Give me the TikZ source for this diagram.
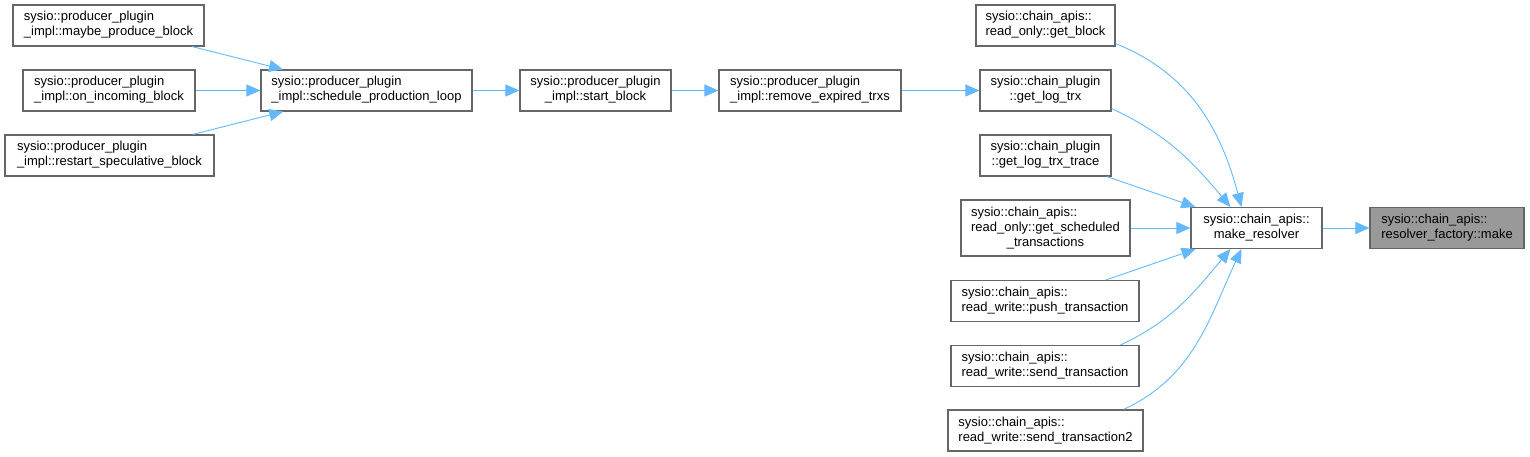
\documentclass[tikz,border=0pt]{standalone}
\usepackage{fontspec}
\setmainfont{Liberation Sans}
\usetikzlibrary{arrows.meta}

\definecolor{edgeblue}{HTML}{63B8FF}
\definecolor{boxgray}{HTML}{666666}
\definecolor{curgray}{HTML}{999999}

% first lines left, last line centred (as doxygen sets them)
\newcommand{\twolbl}[2]{\begin{tabular}{@{}c@{}}\multicolumn{1}{@{}l@{}}{#1}\\#2\end{tabular}}
\newcommand{\threelbl}[3]{\begin{tabular}{@{}c@{}}\multicolumn{1}{@{}l@{}}{#1}\\\multicolumn{1}{@{}l@{}}{#2}\\#3\end{tabular}}

\tikzset{
  fnbox/.style={draw=boxgray, line width=1.1pt, fill=white, inner sep=0pt,
    minimum height=41pt, font=\fontsize{13}{15}\selectfont},
  curbox/.style={fnbox, fill=curgray},
  calls/.style={draw=edgeblue, line width=0.9pt,
    -{Triangle[length=14pt,width=12pt]}}
}

\begin{document}
\begin{tikzpicture}[x=1pt,y=1pt]
			\useasboundingbox (0,0) rectangle (1530,-457);

			% Draw producer plugin callers
			\node[fnbox, minimum width=191pt] (maybe) at (108.5,-25.5)
				{\twolbl{sysio::producer\_plugin}{\_impl::maybe\_produce\_block}};
			\node[fnbox, minimum width=172pt] (incoming) at (109,-90.5)
				{\twolbl{sysio::producer\_plugin}{\_impl::on\_incoming\_block}};
			\node[fnbox, minimum width=209pt] (restart) at (109.5,-155.5)
				{\twolbl{sysio::producer\_plugin}{\_impl::restart\_speculative\_block}};

			% Draw producer chain
			\node[fnbox, minimum width=211pt] (schedule) at (366.5,-90.5)
				{\twolbl{sysio::producer\_plugin}{\_impl::schedule\_production\_loop}};
			\node[fnbox, minimum width=151pt] (start) at (595.5,-90.5)
				{\twolbl{sysio::producer\_plugin}{\_impl::start\_block}};
			\node[fnbox, minimum width=182pt] (remove) at (810,-90.5)
				{\twolbl{sysio::producer\_plugin}{\_impl::remove\_expired\_trxs}};

			% Draw chain api callers
			\node[fnbox, minimum width=139pt] (getblock) at (1045.5,-25.5)
				{\twolbl{sysio::chain\_apis::}{read\_only::get\_block}};
			\node[fnbox, minimum width=131pt] (logtrx) at (1045.5,-90.5)
				{\twolbl{sysio::chain\_plugin}{::get\_log\_trx}};
			\node[fnbox, minimum width=131pt] (logtrace) at (1045.5,-155.5)
				{\twolbl{sysio::chain\_plugin}{::get\_log\_trx\_trace}};
			\node[fnbox, minimum width=169pt, minimum height=56pt] (scheduled) at (1045.5,-228)
				{\threelbl{sysio::chain\_apis::}{read\_only::get\_scheduled}{\_transactions}};
			\node[fnbox, minimum width=188pt] (push) at (1045,-301)
				{\twolbl{sysio::chain\_apis::}{read\_write::push\_transaction}};
			\node[fnbox, minimum width=188pt] (send) at (1045,-366)
				{\twolbl{sysio::chain\_apis::}{read\_write::send\_transaction}};
			\node[fnbox, minimum width=195pt] (sendtwo) at (1045.5,-430.5)
				{\twolbl{sysio::chain\_apis::}{read\_write::send\_transaction2}};

			% Draw resolver and current function
			\node[fnbox, minimum width=131pt] (resolver) at (1256.5,-228)
				{\twolbl{sysio::chain\_apis::}{make\_resolver}};
			\node[curbox, minimum width=154pt] (factory) at (1447,-228)
				{\twolbl{sysio::chain\_apis::}{resolver\_factory::make}};

			% Draw calls
			\draw[calls] (maybe) -- (schedule);
			\draw[calls] (incoming) -- (schedule);
			\draw[calls] (restart) -- (schedule);
			\draw[calls] (schedule) -- (start);
			\draw[calls] (start) -- (remove);
			\draw[calls] (remove) -- (logtrx);
			\draw[calls] ([yshift=3pt]getblock.south east) to[out=-22, in=105]
				([xshift=51pt]resolver.north west);
			\draw[calls] ([yshift=3pt]logtrx.south east) to[out=-25, in=130]
				([xshift=40pt]resolver.north west);
			\draw[calls] (logtrace) -- (resolver);
			\draw[calls] (scheduled) -- (resolver);
			\draw[calls] (push) -- (resolver);
			\draw[calls] ([xshift=-19pt]send.north east) to[out=25, in=-130]
				([xshift=40pt]resolver.south west);
			\draw[calls] ([xshift=-20pt]sendtwo.north east) to[out=25, in=-115]
				([xshift=51pt]resolver.south west);
			\draw[calls] (resolver) -- (factory);
		\end{tikzpicture}
\end{document}
